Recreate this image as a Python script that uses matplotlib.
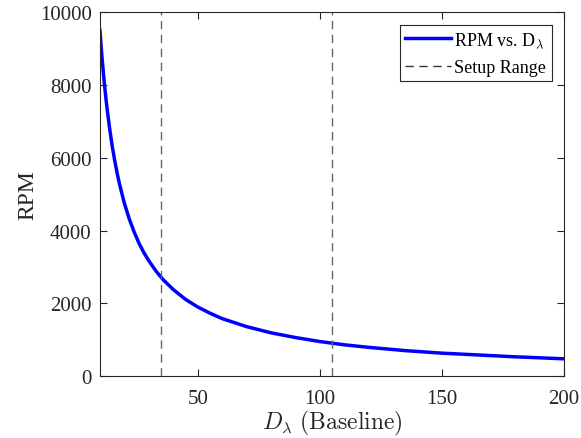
import numpy as np
import matplotlib
matplotlib.use("Agg")
import matplotlib.pyplot as plt

# values
d_lambda = [10, 10.5, 11, 11.5, 12, 12.5, 13, 14, 15, 16, 17, 18, 20, 22, 24, 26, 28,
            30, 33, 36, 40, 45, 50, 55, 60, 70, 80, 90, 100, 110, 120, 135, 150, 165,
            180, 200]
rpm = [9500, 9050, 8640, 8260, 7920, 7600, 7310, 6790, 6330, 5940, 5590, 5280, 4750,
       4320, 3960, 3650, 3390, 3170, 2880, 2640, 2380, 2110, 1900, 1730, 1580, 1360,
       1190, 1060, 950, 860, 790, 700, 630, 580, 530, 475]
setup_range = [35, 105]

plt.rcParams['font.family'] = ['Liberation Serif', 'DejaVu Serif']
plt.rcParams['mathtext.fontset'] = 'cm'

fig = plt.figure(figsize=(5.81, 4.39), dpi=100)
ax = fig.add_axes([0.172, 0.141, 0.799, 0.829])

ax.plot(d_lambda, rpm, color='#0000ff', lw=2.5, label=r'RPM vs. D$_\lambda$')
for i, x in enumerate(setup_range):
    ax.axvline(x, color='#666666', ls=(0, (6, 4)), lw=1.0,
               label='Setup Range' if i == 0 else None)

ax.set_xlim(10, 200)
ax.set_ylim(0, 10000)
ax.set_xticks([50, 100, 150, 200])
ax.set_yticks(range(0, 10001, 2000))
ax.tick_params(direction='in', top=True, right=True, labelsize=15, colors='#262626',
               length=5, width=0.8, pad=6)
ax.tick_params(axis='x', pad=9)
for s in ax.spines.values():
    s.set_color('#262626')
    s.set_linewidth(0.8)

ax.set_xlabel(r'$D_\lambda\ \mathrm{(Baseline)}$', fontsize=17, color='#262626',
              labelpad=0)
ax.set_ylabel('RPM', fontsize=17, color='#262626', labelpad=1)

leg = ax.legend(loc='upper right', fontsize=13, fancybox=False, framealpha=1,
                edgecolor='#262626', handlelength=2.5, handletextpad=0.2,
                borderpad=0.3, labelspacing=0.55, borderaxespad=0.7)
leg.get_frame().set_linewidth(0.8)
leg.get_lines()[1].set_color('#333333')

fig.savefig('out.png', dpi=100)
